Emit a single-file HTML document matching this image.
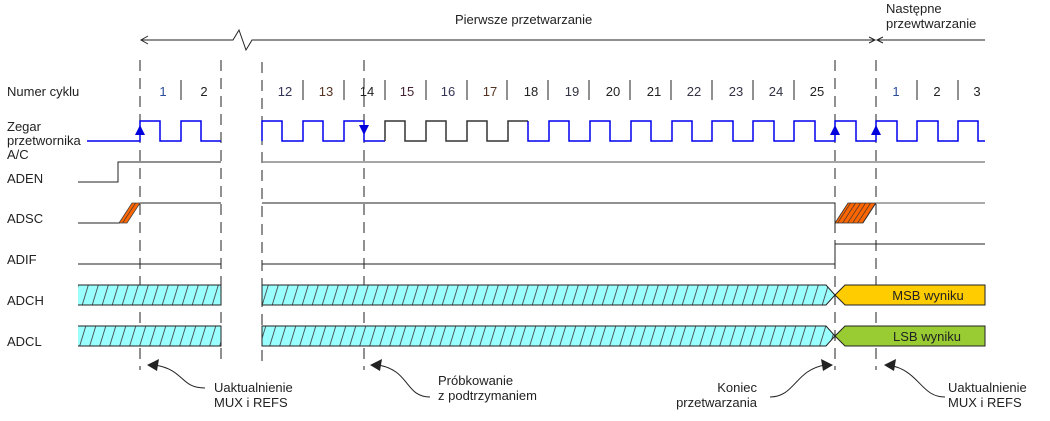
<!DOCTYPE html>
<html><head><meta charset="utf-8"><style>
html,body{margin:0;padding:0;background:#fff;}
svg{display:block;}
text{font-family:"Liberation Sans",Arial,sans-serif;font-size:13px;fill:#222;}
</style></head><body>
<svg width="1050" height="421" viewBox="0 0 1050 421" xmlns="http://www.w3.org/2000/svg">
<defs>
<pattern id="hc" patternUnits="userSpaceOnUse" width="10" height="4" patternTransform="skewX(-17)">
<rect width="10" height="4" fill="#99ffff"/>
<rect x="5" y="0" width="0.9" height="4" fill="#444"/>
</pattern>
<pattern id="ho" patternUnits="userSpaceOnUse" width="5" height="4" patternTransform="skewX(-33)">
<rect width="5" height="4" fill="#ff6600"/>
<rect x="2" y="0" width="0.8" height="4" fill="#333"/>
</pattern>
</defs>

<text x="455" y="24">Pierwsze przetwarzanie</text>
<text x="886" y="13">Następne</text>
<text x="886" y="28">przewtwarzanie</text>
<path d="M141,40 H233 L239,30 L246,50 L252,40 H875" fill="none" stroke="#222" stroke-width="1"/>
<path d="M148,36 L141,40 L148,44" fill="none" stroke="#222"/>
<path d="M869,37 L875,40 L869,43" fill="none" stroke="#222"/>
<path d="M883,37 L877,40 L883,43" fill="none" stroke="#222"/>
<line x1="877" y1="40" x2="985" y2="40" stroke="#222"/>

<text x="7" y="96">Numer cyklu</text>
<text x="7" y="131">Zegar</text>
<text x="7" y="145">przetwornika</text>
<text x="7" y="159">A/C</text>
<text x="7" y="183">ADEN</text>
<text x="7" y="223">ADSC</text>
<text x="7" y="264">ADIF</text>
<text x="7" y="305">ADCH</text>
<text x="7" y="346">ADCL</text>

<g stroke="#222" stroke-width="1" stroke-dasharray="11,7">
<line x1="140" y1="60" x2="140" y2="370"/>
<line x1="221" y1="60" x2="221" y2="360"/>
<line x1="262" y1="62" x2="262" y2="365"/>
<line x1="364" y1="60" x2="364" y2="370"/>
<line x1="835" y1="60" x2="835" y2="370"/>
<line x1="876" y1="60" x2="876" y2="370"/>
</g>

<g stroke="#222" stroke-width="1">
<line x1="181" y1="80" x2="181" y2="100"/>
<line x1="303" y1="80" x2="303" y2="100"/>
<line x1="344" y1="80" x2="344" y2="100"/>
<line x1="385" y1="80" x2="385" y2="100"/>
<line x1="426" y1="80" x2="426" y2="100"/>
<line x1="467" y1="80" x2="467" y2="100"/>
<line x1="507" y1="80" x2="507" y2="100"/>
<line x1="548" y1="80" x2="548" y2="100"/>
<line x1="589" y1="80" x2="589" y2="100"/>
<line x1="630" y1="80" x2="630" y2="100"/>
<line x1="671" y1="80" x2="671" y2="100"/>
<line x1="712" y1="80" x2="712" y2="100"/>
<line x1="753" y1="80" x2="753" y2="100"/>
<line x1="794" y1="80" x2="794" y2="100"/>
<line x1="917" y1="80" x2="917" y2="100"/>
<line x1="958" y1="80" x2="958" y2="100"/>
</g>
<g text-anchor="middle">
<text x="163" y="96" style="fill:#2a4a9a">1</text>
<text x="204" y="96">2</text>
<text x="285" y="96" style="fill:#333355">12</text>
<text x="326" y="96" style="fill:#553322">13</text>
<text x="367" y="96">14</text>
<text x="407" y="96" style="fill:#442233">15</text>
<text x="448" y="96" style="fill:#333355">16</text>
<text x="490" y="96" style="fill:#553322">17</text>
<text x="531" y="96">18</text>
<text x="572" y="96" style="fill:#333344">19</text>
<text x="613" y="96">20</text>
<text x="654" y="96">21</text>
<text x="694" y="96" style="fill:#333344">22</text>
<text x="736" y="96" style="fill:#333344">23</text>
<text x="776" y="96" style="fill:#333344">24</text>
<text x="817" y="96">25</text>
<text x="896" y="96" style="fill:#2a4a9a">1</text>
<text x="937" y="96">2</text>
<text x="977" y="96">3</text>
</g>

<g fill="none" stroke-width="1.5">
<path d="M87,141 H140 V121 H160 V141 H181 V121 H201 V141 H221" stroke="#0000ee"/>
<path d="M262,141 V121 H282 V141 H303 V121 H323 V141 H344 V121 H364 V141 H385" stroke="#0000ee"/>
<path d="M385,141 V121 H405 V141 H426 V121 H446 V141 H467 V121 H487 V141 H508 V121 H528" stroke="#333"/>
<path d="M528,121 V141 H549 V121 H569 V141 H590 V121 H610 V141 H631 V121 H651 V141 H672 V121 H692 V141 H712 V121 H733 V141 H753 V121 H774 V141 H794 V121 H815 V141 H835 V121 H856 V141 H876 V121 H897 V141 H917 V121 H938 V141 H958 V121 H978 V141 H985" stroke="#0000ee"/>
</g>
<g fill="#0000dd">
<polygon points="135,135 145,135 140,125"/>
<polygon points="359,125 369,125 364,135"/>
<polygon points="830,135 840,135 835,125"/>
<polygon points="871,135 881,135 876,125"/>
</g>

<path d="M78,182 H118 V162 H221" fill="none" stroke="#222"/>
<line x1="262" y1="162" x2="985" y2="162" stroke="#888" stroke-width="1.5"/>

<path d="M78,223 H120" fill="none" stroke="#222"/>
<polygon points="119,223 127,223 140,203 132,203" fill="url(#ho)" stroke="#444" stroke-width="0.8"/>
<path d="M140,203 H221" fill="none" stroke="#222"/>
<path d="M262,203 H835 V223" fill="none" stroke="#222"/>
<polygon points="835,223 863,223 876,203 848,203" fill="url(#ho)" stroke="#333" stroke-width="0.8"/>
<line x1="876" y1="203" x2="985" y2="203" stroke="#777" stroke-width="1.2"/>

<path d="M78,264 H221" fill="none" stroke="#222"/>
<path d="M262,264 H835 V244 H985" fill="none" stroke="#222"/>

<rect x="78" y="285" width="143" height="20" fill="url(#hc)" stroke="none"/>
<path d="M78,285 H221 V305 H78" fill="none" stroke="#222"/>
<polygon points="262,285 826,285 835,295 826,305 262,305" fill="url(#hc)" stroke="#222"/>
<polygon points="845,285 985,285 985,305 845,305 835,295" fill="#ffcc00" stroke="#222"/>
<text x="928" y="300" text-anchor="middle">MSB wyniku</text>

<rect x="78" y="326" width="143" height="20" fill="url(#hc)" stroke="none"/>
<path d="M78,326 H221 V346 H78" fill="none" stroke="#222"/>
<polygon points="262,326 826,326 835,336 826,346 262,346" fill="url(#hc)" stroke="#222"/>
<polygon points="845,326 985,326 985,346 845,346 835,336" fill="#99cc33" stroke="#222"/>
<text x="927" y="341" text-anchor="middle">LSB wyniku</text>

<g fill="none" stroke="#222" stroke-width="1">
<path d="M205,388 C180,388 185,370 155,365"/>
<path d="M430,397 C405,397 410,370 378,365"/>
<path d="M770,397 C795,397 795,370 825,365"/>
<path d="M945,397 C920,397 920,370 888,365"/>
</g>
<g fill="#222">
<polygon points="147,365 159,359 157,371"/>
<polygon points="370,365 382,359 380,371"/>
<polygon points="833,365 821,359 823,371"/>
<polygon points="884,365 896,359 894,371"/>
</g>
<text x="214" y="392">Uaktualnienie</text>
<text x="214" y="407">MUX i REFS</text>
<text x="438" y="385">Próbkowanie</text>
<text x="438" y="400">z podtrzymaniem</text>
<text x="757" y="392" text-anchor="end">Koniec</text>
<text x="757" y="407" text-anchor="end">przetwarzania</text>
<text x="948" y="392">Uaktualnienie</text>
<text x="948" y="407">MUX i REFS</text>
</svg>
</body></html>
